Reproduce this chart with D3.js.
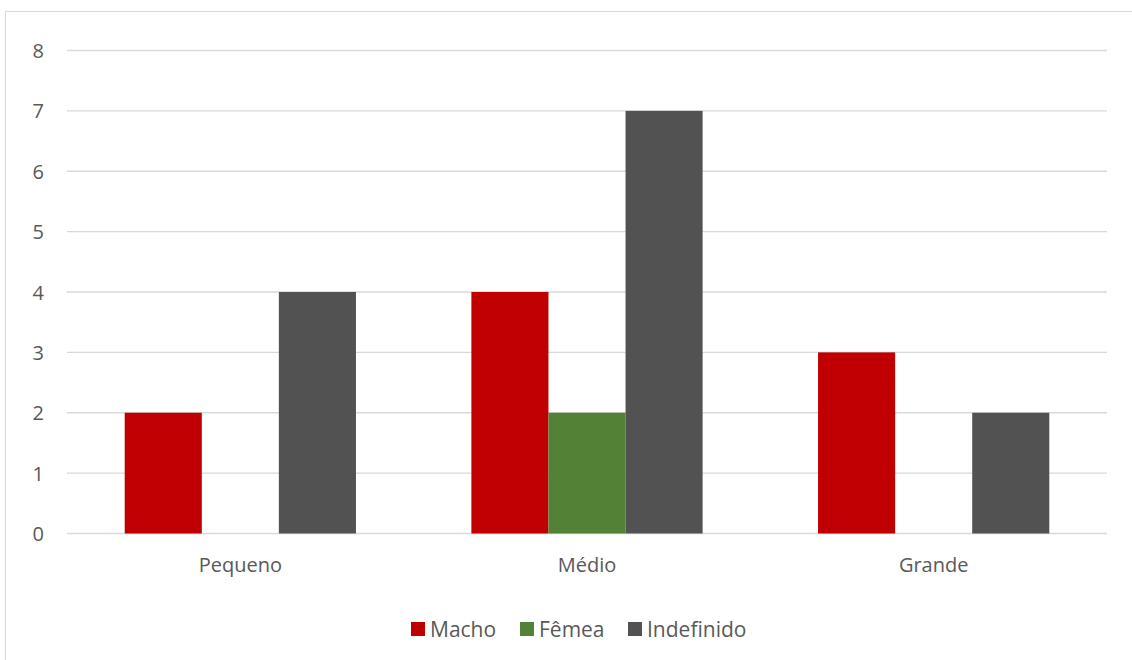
<!DOCTYPE html>
<html>
<head>
<meta charset="utf-8">
<script src="https://cdn.jsdelivr.net/npm/d3@7"></script>
<style>
  html, body { margin: 0; padding: 0; background: #fff; }
  svg { display: block; }
  text { font-family: "Open Sans", "Noto Sans", sans-serif; fill: #595959; }
</style>
</head>
<body>
<svg id="chart" width="1132" height="660"></svg>
<script>
// Data
const categories = ["Pequeno", "Médio", "Grande"];
const seriesNames = ["Macho", "Fêmea", "Indefinido"];
const seriesColors = ["#c00000", "#538135", "#525252"];
const macho = [2, 4, 3];
const femea = [0, 2, 0];
const indefinido = [4, 7, 2];
const yTicks = [0, 1, 2, 3, 4, 5, 6, 7, 8];

const seriesValues = [macho, femea, indefinido];

const svg = d3.select("#chart");
const W = 1132, H = 660;
const fontSize = 20;

// Outer chart frame
svg.append("rect")
  .attr("x", 5.5).attr("y", 11.5)
  .attr("width", W + 10).attr("height", H + 10)
  .attr("fill", "#fff")
  .attr("stroke", "#d9d9d9").attr("stroke-width", 1);

const plot = { left: 67, right: 1107, top: 50.5, bottom: 533.5 };

const x0 = d3.scaleBand()
  .domain(categories)
  .range([plot.left, plot.right])
  .paddingInner(0.333)
  .paddingOuter(0.1665);

const x1 = d3.scaleBand()
  .domain(seriesNames)
  .range([0, x0.bandwidth()])
  .padding(0);

const y = d3.scaleLinear().domain([0, 8]).range([plot.bottom, plot.top]);

// Gridlines
svg.append("g")
  .selectAll("line")
  .data(yTicks)
  .join("line")
  .attr("x1", plot.left).attr("x2", plot.right)
  .attr("y1", d => y(d)).attr("y2", d => y(d))
  .attr("stroke", "#d9d9d9").attr("stroke-width", 1.3);

// Y tick labels
svg.append("g")
  .selectAll("text")
  .data(yTicks)
  .join("text")
  .attr("x", 44).attr("y", d => y(d) + 7.5)
  .attr("text-anchor", "end")
  .attr("font-size", fontSize)
  .text(d => d);

// Bars
const groups = svg.append("g")
  .selectAll("g")
  .data(categories)
  .join("g")
  .attr("transform", d => `translate(${x0(d)},0)`);

groups.selectAll("rect")
  .data((c, i) => seriesNames.map((s, j) => ({ s, v: seriesValues[j][i], color: seriesColors[j] })))
  .join("rect")
  .attr("x", d => x1(d.s))
  .attr("width", x1.bandwidth())
  .attr("y", d => y(d.v))
  .attr("height", d => y(0) - y(d.v))
  .attr("fill", d => d.color);

// Category labels
svg.append("g")
  .selectAll("text")
  .data(categories)
  .join("text")
  .attr("x", d => x0(d) + x0.bandwidth() / 2)
  .attr("y", 572)
  .attr("text-anchor", "middle")
  .attr("font-size", fontSize)
  .text(d => d);

// Legend
const legendX = [411, 520, 628];
const legend = svg.append("g")
  .selectAll("g")
  .data(seriesNames)
  .join("g")
  .attr("transform", (d, i) => `translate(${legendX[i]},622)`);
legend.append("rect")
  .attr("width", 14).attr("height", 14)
  .attr("fill", (d, i) => seriesColors[i]);
legend.append("text")
  .attr("x", 19).attr("y", 14.5)
  .attr("font-size", 21)
  .text(d => d);
</script>
</body>
</html>
